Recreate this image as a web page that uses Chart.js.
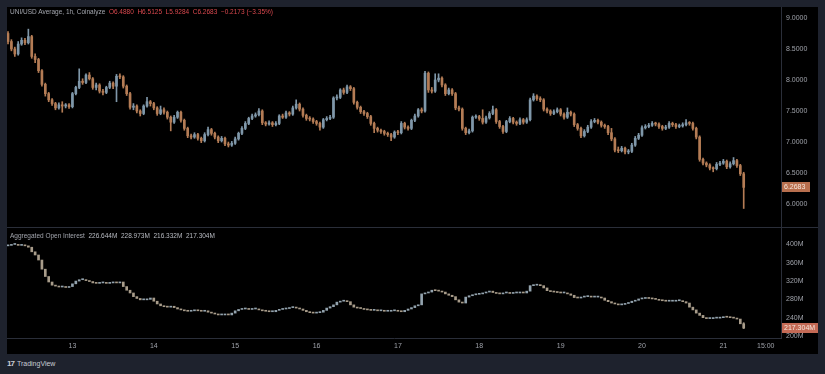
<!DOCTYPE html>
<html>
<head>
<meta charset="utf-8">
<script src="https://cdn.jsdelivr.net/npm/chart.js@4.4.0/dist/chart.umd.min.js"></script>
<style>
  body { margin: 0; width: 825px; height: 374px; background: #1e222d; overflow: hidden; font-family: 'Liberation Sans', Arial, sans-serif; position: relative; }
  #frame { position: absolute; left: 7px; top: 7px; width: 811px; height: 347px; background: #000; }
  #topChart { position: absolute; left: 0; top: 0; }
  #sep { position: absolute; left: 0; top: 220px; width: 811px; height: 1px; background: #2a2e39; }
  #botChart { position: absolute; left: 0; top: 221px; }
  .legend { position: absolute; font-size: 6.5px; color: #a3a6ae; white-space: nowrap; }
  .legend .v { color: #d9484e; }
  .legend .w { color: #b8bbc2; }
  #brand { position: absolute; left: 7px; top: 359px; font-size: 7px; color: #c9ccd4; white-space: nowrap; }
  #brand b { font-size: 8px; letter-spacing: -1px; margin-right: 3px; }
</style>
</head>
<body>
<div id="frame">
  <canvas id="topChart" width="811" height="220"></canvas>
  <div id="sep"></div>
  <canvas id="botChart" width="811" height="126"></canvas>
</div>
<div class="legend" style="left:10px;top:8px">UNI/USD Average, 1h, Coinalyze&nbsp; <span class="v">O6.4880 &nbsp;H6.5125 &nbsp;L5.9284 &nbsp;C6.2683 &nbsp;−0.2173 (−3.35%)</span></div>
<div class="legend" style="left:10px;top:232px">Aggregated Open Interest&nbsp; <span class="w">226.644M &nbsp;228.973M &nbsp;216.332M &nbsp;217.304M</span></div>
<div id="brand"><b>17</b>TradingView</div>

<script>
// hourly candles, index 0 = 12th ~05:00, index 19 = 13th 00:00
const dayTicks = [19, 43, 67, 91, 115, 139, 163, 187, 211, 223.5];
const dayLabels = ['13', '14', '15', '16', '17', '18', '19', '20', '21', '15:00'];
const priceTicks = [6, 6.5, 7, 7.5, 8, 8.5, 9];
const oiTicks = [200, 240, 280, 320, 360, 400];

const firstOpen = 8.75;
const closes = [
  8.62,8.50,8.42,8.58,8.64,8.60,8.70,8.38,8.33,8.15,
  7.93,7.78,7.68,7.62,7.55,7.60,7.58,7.60,7.57,7.78,
  7.88,7.98,7.96,8.08,8.02,7.88,7.92,7.82,7.80,7.88,
  7.95,7.90,8.06,8.05,7.90,7.78,7.56,7.58,7.50,7.46,
  7.58,7.65,7.62,7.55,7.46,7.52,7.48,7.40,7.32,7.40,
  7.48,7.35,7.22,7.10,7.08,7.12,7.06,7.02,7.12,7.20,
  7.14,7.08,7.02,7.06,6.97,6.95,6.98,7.05,7.14,7.22,
  7.30,7.38,7.42,7.44,7.50,7.31,7.29,7.31,7.28,7.30,
  7.42,7.40,7.47,7.45,7.55,7.61,7.53,7.43,7.38,7.37,
  7.33,7.30,7.24,7.36,7.38,7.40,7.71,7.72,7.84,7.80,
  7.89,7.86,7.64,7.56,7.49,7.46,7.41,7.30,7.22,7.19,
  7.17,7.14,7.12,7.08,7.16,7.15,7.30,7.24,7.22,7.35,
  7.42,7.52,7.50,8.11,7.84,7.82,8.00,8.03,7.92,7.78,
  7.84,7.78,7.55,7.53,7.22,7.15,7.18,7.40,7.41,7.38,
  7.32,7.39,7.46,7.52,7.33,7.25,7.17,7.33,7.38,7.32,
  7.30,7.36,7.32,7.36,7.68,7.74,7.70,7.68,7.53,7.50,
  7.46,7.49,7.52,7.45,7.40,7.48,7.45,7.28,7.22,7.10,
  7.17,7.24,7.33,7.35,7.32,7.27,7.25,7.15,7.05,6.87,
  6.86,6.90,6.84,6.85,6.95,7.06,7.11,7.23,7.25,7.27,
  7.30,7.29,7.25,7.22,7.24,7.30,7.28,7.25,7.26,7.28,
  7.31,7.30,7.22,7.08,6.72,6.66,6.63,6.58,6.57,6.64,
  6.66,6.69,6.60,6.65,6.70,6.62,6.488,6.2683
];
const highs = [
  8.78,8.65,8.53,8.62,8.68,8.67,8.82,8.72,8.42,8.35,
  8.17,7.95,7.80,7.70,7.64,7.63,7.65,7.62,7.62,7.80,
  7.90,8.18,8.02,8.10,8.12,8.04,7.95,7.94,7.85,7.90,
  7.98,7.97,8.09,8.10,8.07,7.92,7.80,7.62,7.60,7.52,
  7.60,7.72,7.67,7.64,7.57,7.58,7.55,7.50,7.42,7.43,
  7.50,7.50,7.37,7.24,7.13,7.15,7.14,7.08,7.15,7.24,
  7.22,7.16,7.10,7.09,7.08,7.00,7.01,7.08,7.16,7.25,
  7.33,7.40,7.45,7.47,7.54,7.52,7.33,7.34,7.33,7.33,
  7.44,7.45,7.50,7.49,7.58,7.68,7.63,7.55,7.45,7.41,
  7.39,7.35,7.32,7.38,7.41,7.43,7.73,7.76,7.86,7.87,
  7.92,7.91,7.88,7.66,7.58,7.51,7.48,7.43,7.32,7.24,
  7.21,7.19,7.16,7.14,7.18,7.19,7.33,7.32,7.26,7.37,
  7.45,7.54,7.55,8.14,8.13,7.88,8.10,8.10,8.05,7.94,
  7.87,7.86,7.80,7.58,7.55,7.24,7.21,7.42,7.44,7.43,
  7.52,7.42,7.49,7.58,7.54,7.35,7.27,7.35,7.41,7.40,
  7.34,7.39,7.38,7.39,7.71,7.78,7.76,7.73,7.70,7.55,
  7.52,7.52,7.55,7.54,7.47,7.55,7.50,7.47,7.30,7.24,
  7.20,7.27,7.36,7.38,7.37,7.34,7.29,7.27,7.22,7.07,
  6.92,6.93,6.92,6.88,6.98,7.09,7.14,7.26,7.28,7.30,
  7.33,7.32,7.31,7.27,7.27,7.33,7.32,7.30,7.29,7.31,
  7.36,7.33,7.32,7.24,7.10,6.74,6.68,6.65,6.60,6.67,
  6.69,6.72,6.71,6.68,6.75,6.72,6.64,6.5125
];
const lows = [
  8.58,8.47,8.38,8.40,8.56,8.57,8.58,8.35,8.28,8.12,
  7.90,7.74,7.65,7.59,7.52,7.53,7.48,7.55,7.54,7.55,
  7.76,7.86,7.93,7.94,8.00,7.85,7.84,7.79,7.76,7.78,
  7.86,7.86,7.65,8.02,7.87,7.75,7.53,7.52,7.47,7.42,
  7.44,7.56,7.58,7.52,7.43,7.44,7.45,7.37,7.18,7.30,
  7.38,7.32,7.19,7.07,7.05,7.06,7.03,6.99,7.00,7.10,
  7.11,7.05,6.99,7.00,6.94,6.92,6.93,6.96,7.03,7.12,
  7.20,7.28,7.36,7.40,7.42,7.28,7.26,7.27,7.25,7.26,
  7.28,7.38,7.38,7.42,7.43,7.53,7.50,7.40,7.35,7.34,
  7.30,7.27,7.19,7.22,7.34,7.36,7.38,7.68,7.70,7.77,
  7.78,7.83,7.61,7.53,7.46,7.43,7.38,7.27,7.15,7.16,
  7.14,7.11,7.09,7.02,7.06,7.12,7.13,7.21,7.19,7.20,
  7.33,7.40,7.47,7.48,7.80,7.79,7.80,7.97,7.89,7.75,
  7.76,7.75,7.52,7.50,7.19,7.12,7.13,7.16,7.38,7.35,
  7.29,7.30,7.37,7.44,7.30,7.22,7.14,7.15,7.31,7.29,
  7.27,7.28,7.29,7.30,7.34,7.66,7.67,7.65,7.50,7.47,
  7.43,7.44,7.47,7.42,7.37,7.38,7.42,7.25,7.19,7.07,
  7.08,7.15,7.22,7.31,7.29,7.24,7.22,7.12,7.02,6.84,
  6.83,6.84,6.81,6.81,6.83,6.93,7.04,7.09,7.21,7.23,
  7.25,7.26,7.22,7.19,7.20,7.22,7.25,7.22,7.23,7.24,
  7.26,7.27,7.19,7.05,6.69,6.63,6.60,6.55,6.52,6.55,
  6.62,6.64,6.57,6.58,6.63,6.59,6.46,5.9284
];

// aggregated open interest, millions
const oiFirstOpen = 397;
const oiCloses = [
  398,400,400,398,399,397,394,384,377,366,
  346,330,318,311,309,307,307,306,308,314,
  320,323,323,321,319,316,315,316,316,315,
  316,317,316,318,308,300,294,286,282,279,
  279,280,283,276,270,266,264,263,265,262,
  259,257,255,254,255,256,255,254,255,252,
  250,248,246,246,247,246,250,255,258,259,
  259,258,259,259,257,255,254,253,253,256,
  258,259,260,262,263,261,259,256,253,251,
  250,251,252,256,261,264,268,274,276,276,
  275,268,263,261,260,258,257,256,256,255,
  255,254,254,255,256,254,253,256,259,262,
  266,268,292,294,296,300,299,298,296,292,
  289,286,279,274,272,285,288,290,291,292,
  294,296,298,295,293,292,294,294,293,294,
  294,295,294,298,310,311,311,310,305,299,
  297,296,295,294,294,292,289,284,283,285,
  286,287,285,285,285,283,278,275,272,270,
  268,269,271,273,276,278,281,282,283,282,
  281,280,278,277,276,276,276,277,277,275,
  272,263,257,250,245,240,238,238,239,239,
  240,242,241,240,239,237,226.644,217.304
];
const oiLastHigh = 228.973;
const oiLastLow = 216.332;

const upColor = '#7f97a9';
const downColor = '#b47c55';
const oiUp = '#93a3ae';
const oiDown = '#a89c8a';
const axisColor = '#2a2e39';
const labelColor = '#9ea1a9';
const tickFont = { family: "'Liberation Sans', Arial, sans-serif", size: 7 };

const opens = closes.map((c, i) => i === 0 ? firstOpen : closes[i - 1]);
const oiOpens = oiCloses.map((c, i) => i === 0 ? oiFirstOpen : oiCloses[i - 1]);

const priceColors = closes.map((c, i) => c >= opens[i] ? upColor : downColor);
const oiColors = oiCloses.map((c, i) => c >= oiOpens[i] ? oiUp : oiDown);

// keep axis sizes fixed so both panes share the same x mapping
function fixY(scale) {
  scale.width = 37;
  scale.paddingTop = 0;
  scale.paddingBottom = 0;
}
function fixX(scale) {
  scale.height = 16;
  scale.paddingLeft = 0;
  scale.paddingRight = 0;
}

function lastValueBox(id, axisId, value, text, bg, w) {
  return {
    id: id,
    afterDraw(chart) {
      const ctx = chart.ctx;
      const area = chart.chartArea;
      const y = Math.round(chart.scales[axisId].getPixelForValue(value));
      ctx.save();
      ctx.fillStyle = bg;
      ctx.fillRect(area.right + 1, y - 5, w, 10);
      ctx.fillStyle = '#f6e7dc';
      ctx.font = "7px 'Liberation Sans', Arial, sans-serif";
      ctx.textBaseline = 'middle';
      ctx.fillText(text, area.right + 3, y + 0.5);
      ctx.restore();
    }
  };
}

const xScale = {
  type: 'linear',
  min: -0.3,
  max: 228,
  offset: false,
  grid: { display: false, offset: false, drawTicks: false },
  border: { display: false }
};

new Chart(document.getElementById('topChart'), {
  type: 'bar',
  data: {
    datasets: [
      {
        label: 'body',
        data: closes.map((c, i) => ({ x: i, y: [opens[i], c] })),
        backgroundColor: priceColors,
        barThickness: 2,
        minBarLength: 1,
        grouped: false
      },
      {
        label: 'wick',
        data: closes.map((c, i) => ({ x: i, y: [lows[i], highs[i]] })),
        backgroundColor: priceColors,
        barThickness: 1,
        grouped: false
      }
    ]
  },
  options: {
    responsive: false,
    animation: false,
    events: [],
    layout: { padding: 0 },
    plugins: { legend: { display: false }, tooltip: { enabled: false } },
    scales: {
      x: Object.assign({}, xScale, { display: false }),
      y: {
        position: 'right',
        min: 5.63,
        max: 9.177,
        afterBuildTicks: s => { s.ticks = priceTicks.map(v => ({ value: v })); },
        afterFit: fixY,
        grid: { display: false, drawTicks: false },
        border: { display: true, color: axisColor },
        ticks: { color: labelColor, font: tickFont, padding: 5, callback: v => v.toFixed(4) }
      }
    }
  },
  plugins: [lastValueBox('priceBox', 'y', closes[closes.length - 1], '6.2683', '#b86f4e', 28)]
});

const lastI = oiCloses.length - 1;
new Chart(document.getElementById('botChart'), {
  type: 'bar',
  data: {
    datasets: [
      {
        label: 'oi',
        data: oiCloses.map((c, i) => ({ x: i, y: [oiOpens[i], c] })),
        backgroundColor: oiColors,
        barThickness: 2,
        minBarLength: 1,
        grouped: false
      },
      {
        label: 'oiWick',
        data: [{ x: lastI, y: [oiLastLow, oiLastHigh] }],
        backgroundColor: oiDown,
        barThickness: 1,
        grouped: false
      }
    ]
  },
  options: {
    responsive: false,
    animation: false,
    events: [],
    layout: { padding: 0 },
    plugins: { legend: { display: false }, tooltip: { enabled: false } },
    scales: {
      x: Object.assign({}, xScale, {
        border: { display: true, color: axisColor },
        afterBuildTicks: s => { s.ticks = dayTicks.map(v => ({ value: v })); },
        afterFit: fixX,
        ticks: {
          color: labelColor, font: tickFont, padding: 4, maxRotation: 0, autoSkip: false,
          callback: v => dayLabels[dayTicks.indexOf(v)]
        }
      }),
      y: {
        position: 'right',
        min: 195.6,
        max: 436,
        afterBuildTicks: s => { s.ticks = oiTicks.map(v => ({ value: v })); },
        afterFit: fixY,
        grid: { display: false, drawTicks: false },
        border: { display: true, color: axisColor },
        ticks: { color: labelColor, font: tickFont, padding: 5, callback: v => v + 'M' }
      }
    }
  },
  plugins: [lastValueBox('oiBox', 'y', oiCloses[lastI], '217.304M', '#c46a55', 36)]
});
</script>
</body>
</html>
